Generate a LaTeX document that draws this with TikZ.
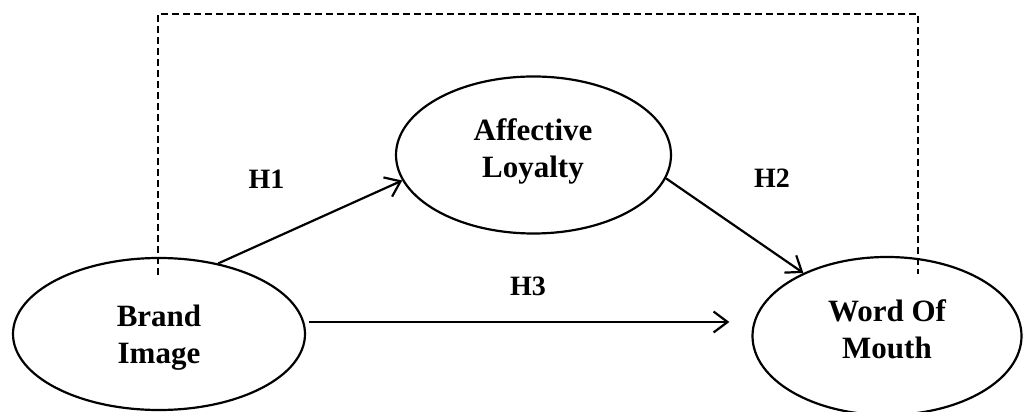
\documentclass[tikz,border=0pt]{standalone}
\usepackage{fontspec}
\setmainfont{Liberation Serif}
\usetikzlibrary{shapes.geometric,arrows.meta,calc}
\tikzset{
  construct/.style={ellipse, draw, line width=2.2pt, inner sep=0pt},
  ctext/.style={font=\fontsize{31}{37}\selectfont\bfseries, align=center, inner sep=0pt},
  hlabel/.style={font=\fontsize{28}{32}\selectfont\bfseries, inner sep=0pt},
  arr/.style={line width=2.2pt, -{Straight Barb[length=14pt,width=21pt,line width=2.2pt]}},
  dashline/.style={line width=2.2pt, dash pattern=on 7pt off 4pt}
}
\begin{document}
\begin{tikzpicture}[x=1pt,y=1pt]
\useasboundingbox (0,0) rectangle (1025,412);
% constructs
\node[construct, minimum width=292pt, minimum height=152pt] (brand) at (159,78) {};
\node[construct, minimum width=275pt, minimum height=157pt] (aff) at (533.5,257) {};
\node[construct, minimum width=269pt, minimum height=158pt] (wom) at (887,76) {};
% texts
\node[ctext] (brandtxt) at (159,74) {Brand\\Image};
\node[ctext] (afftxt) at (533,261) {Affective\\Loyalty};
\node[ctext] (womtxt) at (887,83) {Word Of\\Mouth};
% labels
\node[hlabel] (h1) at (266.5,233) {H1};
\node[hlabel] (h2) at (772,233.5) {H2};
\node[hlabel] (h3) at (528,125.5) {H3};
% arrows
\draw[arr] (brand.50) -- (aff.191);
\draw[arr] (aff.350) -- (wom.143);
\draw[arr, shorten >=22pt] ($(brand.east)+(3,12)$) -- ($(wom.west)+(0,14)$);
% dashed link
\coordinate (d1) at ($(brand.north)+(-1,-18)$);
\coordinate (d2) at ($(wom.north)+(31,-18)$);
\draw[dashline] (d1) -- (d1 |- 0,398) -- (d2 |- 0,398) -- (d2);
\end{tikzpicture}
\end{document}
